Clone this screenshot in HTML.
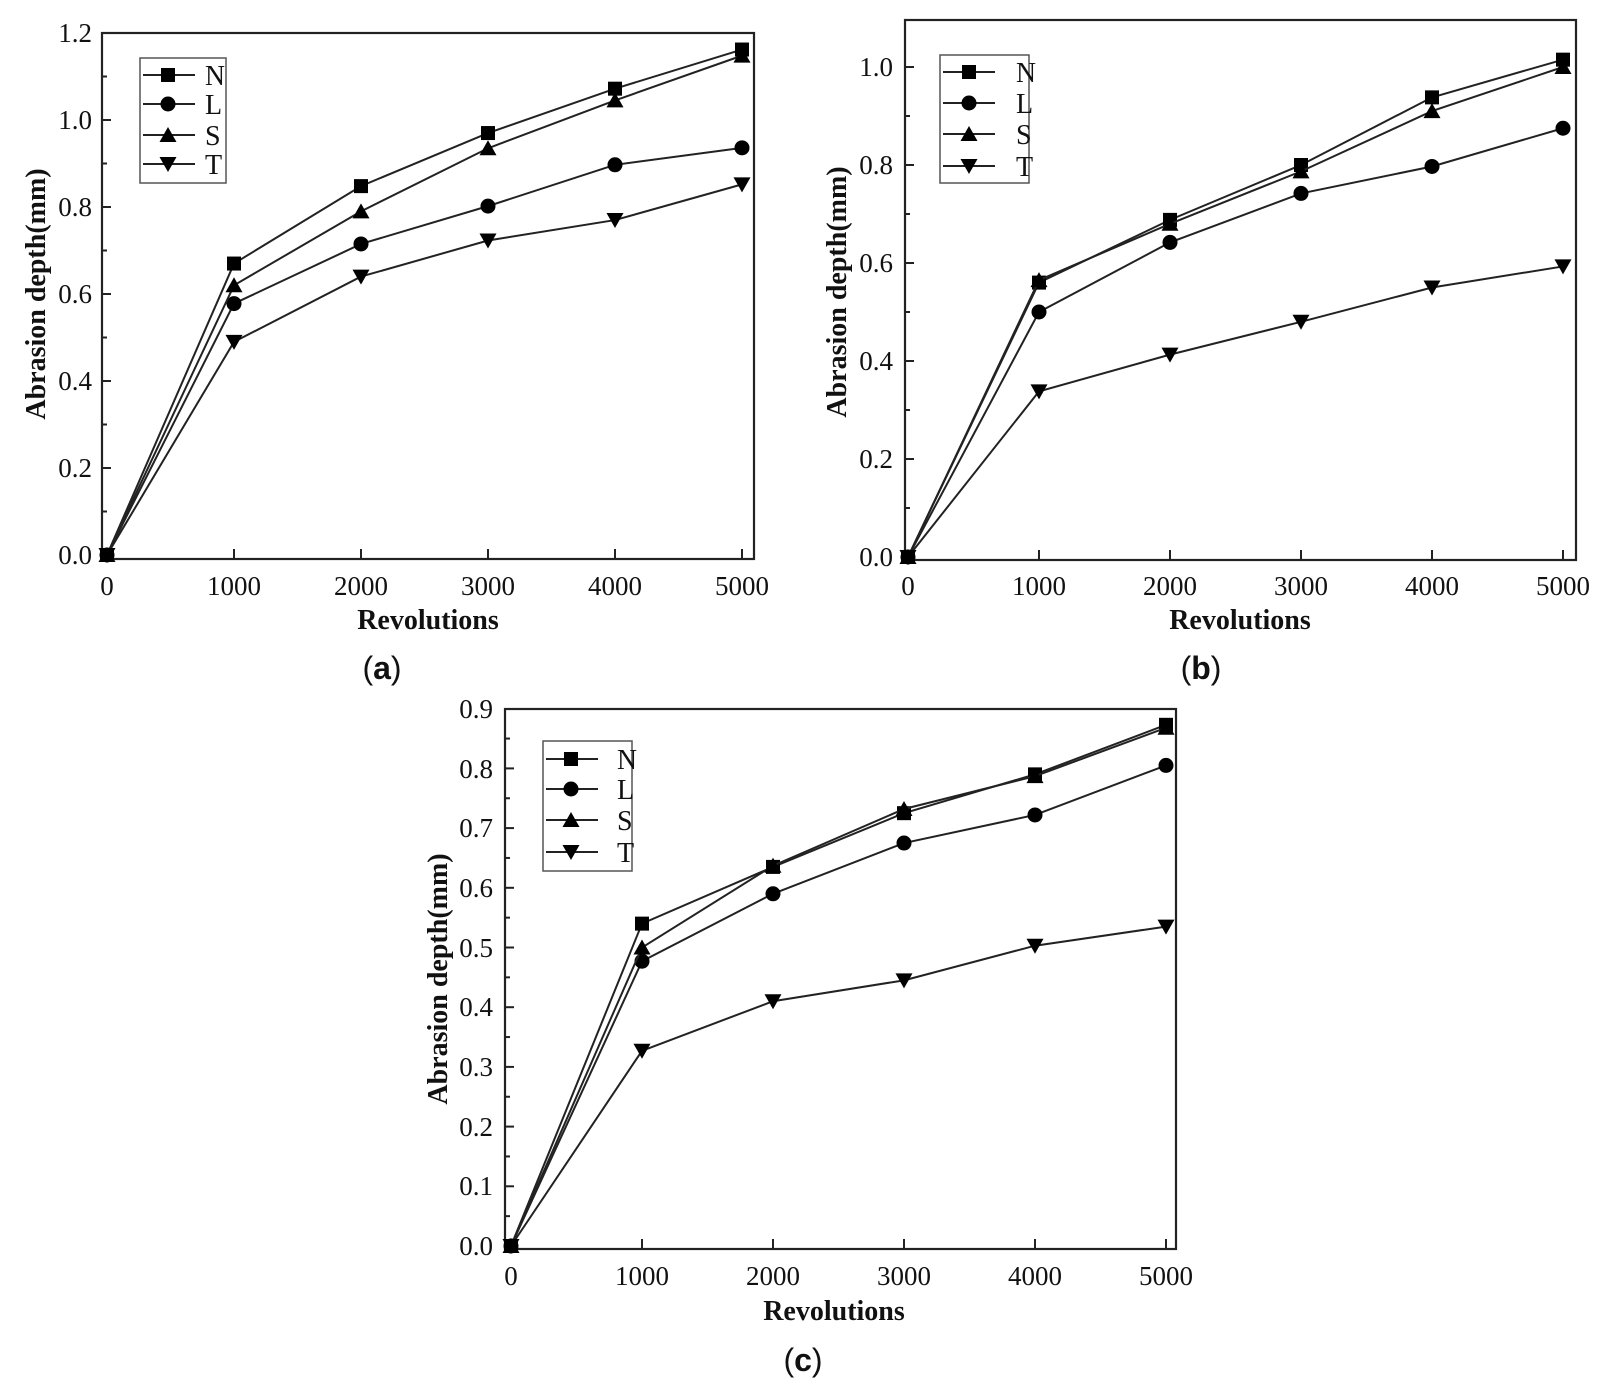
<!DOCTYPE html>
<html><head><meta charset="utf-8"><style>
html,body{margin:0;padding:0;background:#fff;}
svg{display:block;}
text{font-family:"Liberation Serif",serif;fill:#111;}
.t{font-size:27px;}
.lg{font-size:28px;}
.b{font-size:28px;font-weight:bold;}
.cap{font-size:32px;font-family:"Liberation Sans",sans-serif;}
</style></head><body>
<svg id="s" width="1608" height="1398" xmlns="http://www.w3.org/2000/svg">
<g id="plots"></g>
<!-- (a) labels -->
<g class="t" text-anchor="end">
<text x="92" y="42">1.2</text><text x="92" y="129">1.0</text><text x="92" y="216">0.8</text><text x="92" y="303">0.6</text><text x="92" y="390">0.4</text><text x="92" y="477">0.2</text><text x="92" y="564">0.0</text>
</g>
<g class="t" text-anchor="middle">
<text x="107" y="595">0</text><text x="234" y="595">1000</text><text x="361" y="595">2000</text><text x="488" y="595">3000</text><text x="615" y="595">4000</text><text x="742" y="595">5000</text>
</g>
<text class="b" x="428" y="629" text-anchor="middle">Revolutions</text>
<text class="b" transform="translate(45,294) rotate(-90)" text-anchor="middle">Abrasion depth(mm)</text>
<text class="cap" x="382" y="679" text-anchor="middle">(<tspan font-weight="bold">a</tspan>)</text>
<g class="lg"><text x="205" y="85" textLength="20" lengthAdjust="spacingAndGlyphs">N</text><text x="205" y="114">L</text><text x="205" y="145">S</text><text x="205" y="174">T</text></g>
<!-- (b) labels -->
<g class="t" text-anchor="end">
<text x="893" y="76">1.0</text><text x="893" y="174">0.8</text><text x="893" y="272">0.6</text><text x="893" y="370">0.4</text><text x="893" y="468">0.2</text><text x="893" y="566">0.0</text>
</g>
<g class="t" text-anchor="middle">
<text x="908" y="595">0</text><text x="1039" y="595">1000</text><text x="1170" y="595">2000</text><text x="1301" y="595">3000</text><text x="1432" y="595">4000</text><text x="1563" y="595">5000</text>
</g>
<text class="b" x="1240" y="629" text-anchor="middle">Revolutions</text>
<text class="b" transform="translate(846,292) rotate(-90)" text-anchor="middle">Abrasion depth(mm)</text>
<text class="cap" x="1201" y="679" text-anchor="middle">(<tspan font-weight="bold">b</tspan>)</text>
<g class="lg"><text x="1016" y="82" textLength="20" lengthAdjust="spacingAndGlyphs">N</text><text x="1016" y="113">L</text><text x="1016" y="144">S</text><text x="1016" y="176">T</text></g>
<!-- (c) labels -->
<g class="t" text-anchor="end">
<text x="493" y="718">0.9</text><text x="493" y="778">0.8</text><text x="493" y="837">0.7</text><text x="493" y="897">0.6</text><text x="493" y="957">0.5</text><text x="493" y="1016">0.4</text><text x="493" y="1076">0.3</text><text x="493" y="1136">0.2</text><text x="493" y="1195">0.1</text><text x="493" y="1255">0.0</text>
</g>
<g class="t" text-anchor="middle">
<text x="511" y="1285">0</text><text x="642" y="1285">1000</text><text x="773" y="1285">2000</text><text x="904" y="1285">3000</text><text x="1035" y="1285">4000</text><text x="1166" y="1285">5000</text>
</g>
<text class="b" x="834" y="1320" text-anchor="middle">Revolutions</text>
<text class="b" transform="translate(447,979) rotate(-90)" text-anchor="middle">Abrasion depth(mm)</text>
<text class="cap" x="803" y="1371" text-anchor="middle">(<tspan font-weight="bold">c</tspan>)</text>
<g class="lg"><text x="617" y="769" textLength="20" lengthAdjust="spacingAndGlyphs">N</text><text x="617" y="799">L</text><text x="617" y="830">S</text><text x="617" y="862">T</text></g>
</svg>
<script>
var NS="http://www.w3.org/2000/svg",G=document.getElementById("plots");
function el(n,a){var e=document.createElementNS(NS,n);for(var k in a)e.setAttribute(k,a[k]);G.appendChild(e);return e;}
function mk(t,x,y){var s=7;
 if(t==0)el("rect",{x:x-s,y:y-s,width:2*s,height:2*s,fill:"#000"});
 else if(t==1)el("circle",{cx:x,cy:y,r:7.5,fill:"#000"});
 else if(t==2)el("polygon",{points:(x-8.5)+","+(y+7)+" "+(x+8.5)+","+(y+7)+" "+x+","+(y-8),fill:"#000"});
 else el("polygon",{points:(x-8.5)+","+(y-7)+" "+(x+8.5)+","+(y-7)+" "+x+","+(y+8),fill:"#000"});}
function plot(P){
 el("rect",{x:P.L,y:P.T,width:P.R-P.L,height:P.B-P.T,fill:"none",stroke:"#222","stroke-width":2.2});
 for(var v=0;v<=P.ymax+1e-9;v+=P.ys/2){var y=P.y0-v*P.py;if(y<P.T+1)continue;var maj=Math.abs(Math.round(v/P.ys)*P.ys-v)<1e-6;
  el("line",{x1:P.L,x2:P.L+(maj?9:5),y1:y,y2:y,stroke:"#222","stroke-width":2});}
 for(var i=0;i<=5;i++){var x=P.x0+i*P.px;el("line",{x1:x,x2:x,y1:P.B,y2:P.B-10,stroke:"#222","stroke-width":2});}
 for(var s=0;s<4;s++){var d=P.d[s],pts=[];
  for(var i=0;i<6;i++)pts.push((P.x0+i*P.px)+","+(P.y0-d[i]*P.py));
  el("polyline",{points:pts.join(" "),fill:"none",stroke:"#222","stroke-width":2});
  for(var i=0;i<6;i++)mk(s,P.x0+i*P.px,P.y0-d[i]*P.py);}
 el("rect",{x:P.lg[0],y:P.lg[1],width:P.lg[2],height:P.lg[3],fill:"#fff",stroke:"#555","stroke-width":1.5});
 for(var s=0;s<4;s++){var y=P.lr[s];el("line",{x1:P.lg[0]+3,x2:P.lg[0]+55,y1:y,y2:y,stroke:"#222","stroke-width":2});mk(s,P.lm,y);}
}
plot({L:102,T:33,R:754,B:559,x0:107,px:127,y0:555,py:435,ymax:1.2,ys:0.2,
 d:[[0,.67,.848,.97,1.072,1.162],[0,.578,.715,.802,.897,.936],[0,.62,.79,.935,1.045,1.148],[0,.49,.64,.723,.77,.852]],
 lg:[140,58,86,125],lr:[75,104,135,164],lm:168});
plot({L:905,T:20,R:1576,B:560,x0:908,px:131,y0:557,py:490,ymax:1.09,ys:0.2,
 d:[[0,.56,.688,.80,.938,1.015],[0,.50,.642,.742,.797,.875],[0,.565,.68,.787,.91,1.0],[0,.338,.413,.48,.55,.593]],
 lg:[940,55,89,128],lr:[72,103,134,166],lm:969});
plot({L:505,T:709,R:1176,B:1249,x0:511,px:131,y0:1246,py:597,ymax:0.9,ys:0.1,
 d:[[0,.54,.635,.725,.79,.873],[0,.477,.59,.675,.722,.805],[0,.5,.637,.732,.787,.868],[0,.327,.41,.445,.503,.535]],
 lg:[543,741,89,130],lr:[759,789,820,852],lm:571});
</script>
</body></html>
